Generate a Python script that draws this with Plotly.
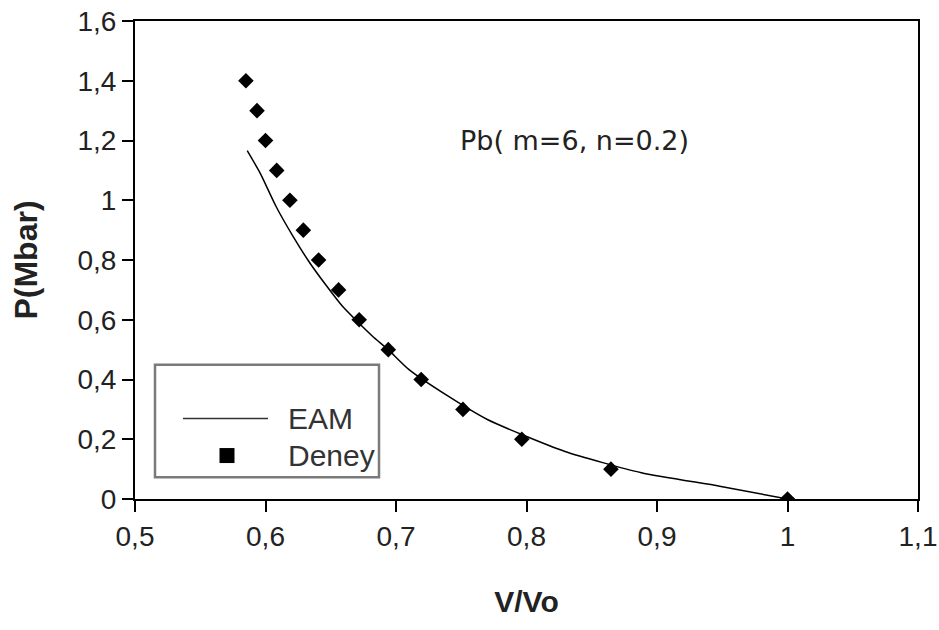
import plotly.graph_objects as go

# Experimental (Deney) data
deney_v = [0.585, 0.5935, 0.600, 0.6086, 0.6187, 0.629, 0.6407, 0.656, 0.6718,
           0.6941, 0.7193, 0.7513, 0.7964, 0.8647, 1.0]
deney_p = [1.4, 1.3, 1.2, 1.1, 1.0, 0.9, 0.8, 0.7, 0.6, 0.5, 0.4, 0.3, 0.2, 0.1, 0.0]

# EAM curve
eam_v = [0.586, 0.596, 0.608, 0.621, 0.634, 0.647, 0.659, 0.669, 0.682, 0.694,
         0.710, 0.740, 0.770, 0.829, 0.888, 0.948, 1.0]
eam_p = [1.166, 1.09, 0.98, 0.88, 0.79, 0.712, 0.645, 0.600, 0.545, 0.50,
         0.433, 0.344, 0.266, 0.16, 0.088, 0.043, 0.0]

x_ticks = [0.5, 0.6, 0.7, 0.8, 0.9, 1.0, 1.1]
x_labels = ["0,5", "0,6", "0,7", "0,8", "0,9", "1", "1,1"]
y_ticks = [0, 0.2, 0.4, 0.6, 0.8, 1.0, 1.2, 1.4, 1.6]
y_labels = ["0", "0,2", "0,4", "0,6", "0,8", "1", "1,2", "1,4", "1,6"]

FONT = "Liberation Sans, Arial, sans-serif"

L, R, T, B = 135, 21, 21, 130.5
PW = 939 - L - R
PH = 630 - T - B


def px(x):
    return (x - L) / PW


def py(y):
    return (630 - B - y) / PH


fig = go.Figure()
fig.add_trace(go.Scatter(x=eam_v, y=eam_p, mode="lines", name="EAM",
                         line=dict(color="black", width=1.5, shape="spline", smoothing=0.6),
                         showlegend=False))
fig.add_trace(go.Scatter(x=deney_v, y=deney_p, mode="markers", name="Deney",
                         marker=dict(symbol="diamond", size=12, color="black"),
                         showlegend=False))

axis_common = dict(showgrid=False, zeroline=False, showline=True, linecolor="black",
                   linewidth=2, mirror=True, ticks="outside", ticklen=11,
                   tickwidth=2, tickcolor="black", automargin=False,
                   ticklabeloverflow="allow",
                   tickfont=dict(family=FONT, size=28, color="#222"))

fig.update_xaxes(range=[0.5, 1.1], tickvals=x_ticks, ticktext=x_labels,
                 title=dict(text="<b>V/Vo</b>", font=dict(family=FONT, size=30, color="#222"),
                            standoff=40), **axis_common)
fig.update_yaxes(range=[0, 1.6], tickvals=y_ticks, ticktext=y_labels,
                 title=dict(text="<b>P(Mbar)</b>", font=dict(family=FONT, size=32, color="#222"),
                            standoff=30), **axis_common)

# manual legend (Excel style)
fig.add_shape(type="rect", xref="paper", yref="paper", x0=px(155), x1=px(379),
              y0=py(477.7), y1=py(365),
              line=dict(color="#7a7a7a", width=2.5), fillcolor="white")
fig.add_shape(type="line", xref="paper", yref="paper", x0=px(183), x1=px(268),
              y0=py(419), y1=py(419), line=dict(color="#333", width=1.5))
fig.add_shape(type="rect", xref="paper", yref="paper", xsizemode="pixel", ysizemode="pixel",
              xanchor=px(227), yanchor=py(456), x0=-7.5, x1=7.5, y0=-7.5, y1=7.5,
              line=dict(width=0), fillcolor="black")
fig.add_annotation(xref="paper", yref="paper", x=px(286), y=py(419), text="EAM",
                   showarrow=False, xanchor="left", yanchor="middle",
                   font=dict(family=FONT, size=30, color="#333"))
fig.add_annotation(xref="paper", yref="paper", x=px(286), y=py(456), text="Deney",
                   showarrow=False, xanchor="left", yanchor="middle",
                   font=dict(family=FONT, size=30, color="#333"))

fig.add_annotation(xref="paper", yref="paper", x=px(574), y=py(141),
                   text="Pb( m=6, n=0.2)", showarrow=False, xanchor="center", yanchor="middle",
                   font=dict(family="DejaVu Sans, sans-serif", size=27, color="#222"))

fig.update_layout(width=939, height=630, paper_bgcolor="white", plot_bgcolor="white",
                  margin=dict(l=L, r=R, t=T, b=B, pad=0))

fig.write_html("out.html")
